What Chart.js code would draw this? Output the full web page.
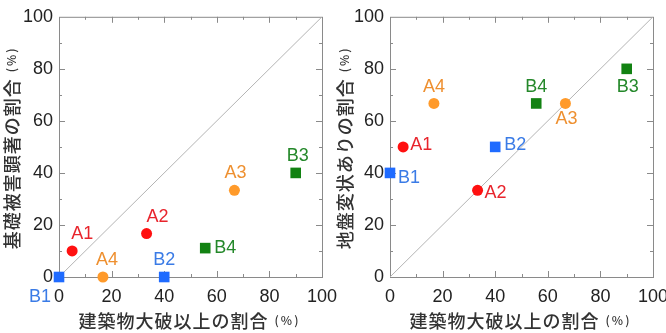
<!DOCTYPE html>
<html lang="ja">
<head>
<meta charset="UTF-8">
<title>建築物被害と基礎被害・地盤変状</title>
<script src="https://cdn.jsdelivr.net/npm/chart.js"></script>
<style>
  html, body { margin: 0; padding: 0; background: #fff; }
  .wrap { position: relative; width: 666px; height: 333px; overflow: hidden; }
  canvas { position: absolute; top: 0; }
  #left { left: 0; }
  #right { left: 333px; }
</style>
</head>
<body>
<div class="wrap">
  <canvas id="left" width="350" height="333"></canvas>
  <canvas id="right" width="345" height="333"></canvas>
</div>
<script>
  // values (%)
  const sites = ['A1', 'A2', 'A3', 'A4', 'B1', 'B2', 'B3', 'B4'];
  const buildingDamage = [5, 33.3, 66.7, 16.7, 0, 40, 90, 55.6];     // 建築物大破以上の割合
  const foundationDamage = [10, 16.7, 33.3, 0, 0, 0, 40, 11.1];     // 基礎被害顕著の割合
  const groundDeformation = [50, 33.3, 66.7, 66.7, 40, 50, 80, 66.7]; // 地盤変状ありの割合
  const axisTicks = [0, 20, 40, 60, 80, 100];
  const diagonal = [0, 100];

  const pointColors = ['#ff1010', '#ff1010', '#ff9a2a', '#ff9a2a', '#1f6bff', '#1f6bff', '#128212', '#128212'];
  const textColors = ['#e8242c', '#e8242c', '#ee9030', '#ee9030', '#3a7be6', '#3a7be6', '#24882a', '#24882a'];

  // label offsets from each point, px
  const leftOffsets = [[10, -17], [11, -17], [1, -17], [4, -17], [-19, 20], [0, -17], [2, -17], [20, 0]];
  const rightOffsets = [[18, -2], [18, 3], [1, 16], [0, -16], [19, 5], [20, -2], [1, 18], [0, -16]];

  const tickFamily = '"Liberation Sans", Arial, sans-serif';
  const jpFont = '"Noto Sans CJK JP", sans-serif';

  function drawTitle(ctx, main, x, y, rotate) {
    ctx.save();
    ctx.translate(x, y);
    if (rotate) ctx.rotate(-Math.PI / 2);
    const unit = '(%)';
    const gap = 6;
    ctx.font = '500 18px ' + jpFont;
    ctx.letterSpacing = '1px';
    const w1 = ctx.measureText(main).width;
    ctx.font = '500 12px ' + jpFont;
    ctx.letterSpacing = '2px';
    const w2 = ctx.measureText(unit).width;
    const sx = -(w1 + gap + w2) / 2;
    ctx.fillStyle = '#333';
    ctx.textBaseline = 'middle';
    ctx.font = '500 18px ' + jpFont;
    ctx.letterSpacing = '1px';
    ctx.fillText(main, sx, 0);
    ctx.font = '500 12px ' + jpFont;
    ctx.letterSpacing = '2px';
    ctx.fillText(unit, sx + w1 + gap, -1);
    ctx.restore();
  }

  const framePlugin = {
    id: 'frame',
    beforeDatasetsDraw(chart) {
      const { ctx, chartArea: a, scales } = chart;
      ctx.save();
      ctx.strokeStyle = '#8a8a8a';
      ctx.lineWidth = 1;
      ctx.strokeRect(a.left + 0.5, a.top + 0.5, a.right - a.left, a.bottom - a.top);
      ctx.beginPath();
      for (let v = 10; v < 100; v += 10) {
        const len = v % 20 === 0 ? 6 : 3;
        const px = Math.round(scales.x.getPixelForValue(v)) + 0.5;
        const py = Math.round(scales.y.getPixelForValue(v)) + 0.5;
        ctx.moveTo(px, a.bottom); ctx.lineTo(px, a.bottom - len);
        ctx.moveTo(px, a.top); ctx.lineTo(px, a.top + len);
        ctx.moveTo(a.left, py); ctx.lineTo(a.left + len, py);
        ctx.moveTo(a.right, py); ctx.lineTo(a.right - len, py);
      }
      ctx.stroke();
      ctx.restore();
    },
    afterDatasetsDraw(chart, args, opts) {
      const { ctx, chartArea: a } = chart;
      const meta = chart.getDatasetMeta(0);
      ctx.save();
      ctx.font = '18px ' + tickFamily;
      ctx.textAlign = 'center';
      ctx.textBaseline = 'middle';
      meta.data.forEach((pt, i) => {
        ctx.fillStyle = textColors[i];
        ctx.fillText(sites[i], pt.x + opts.offsets[i][0], pt.y + opts.offsets[i][1]);
      });
      ctx.restore();
      drawTitle(ctx, '建築物大破以上の割合', (a.left + a.right) / 2 - 1, 321, false);
      drawTitle(ctx, opts.yTitle, 12.5, (a.top + a.bottom) / 2 + 1, true);
    }
  };

  function makeChart(id, yValues, yTitle, offsets, yWidth, rightPad) {
    return new Chart(document.getElementById(id), {
      type: 'scatter',
      data: {
        datasets: [
          {
            data: buildingDamage.map((x, i) => ({ x: x, y: yValues[i] })),
            pointStyle: sites.map(s => s[0] === 'A' ? 'circle' : 'rect'),
            pointRadius: sites.map(s => s[0] === 'A' ? 5.5 : 7.5),
            pointBackgroundColor: pointColors,
            pointBorderWidth: 0,
            clip: false
          },
          {
            type: 'line',
            data: diagonal.map(v => ({ x: v, y: v })),
            borderColor: '#b4b4b4',
            borderWidth: 1,
            pointRadius: 0
          }
        ]
      },
      options: {
        responsive: false,
        animation: false,
        devicePixelRatio: 1,
        layout: { padding: { left: 0, top: 15, right: rightPad, bottom: 0 } },
        scales: {
          x: {
            type: 'linear', min: 0, max: 100,
            afterBuildTicks: s => { s.ticks = axisTicks.map(v => ({ value: v })); },
            afterFit: s => { s.height = 56; },
            grid: { display: false, drawTicks: false },
            border: { display: false },
            ticks: { font: { size: 18, family: tickFamily }, color: '#222', padding: 9, maxRotation: 0 }
          },
          y: {
            type: 'linear', min: 0, max: 100,
            afterBuildTicks: s => { s.ticks = axisTicks.map(v => ({ value: v })); },
            afterFit: s => { s.width = yWidth; },
            grid: { display: false, drawTicks: false },
            border: { display: false },
            ticks: { font: { size: 18, family: tickFamily }, color: '#222', padding: 6 }
          }
        },
        plugins: {
          legend: { display: false },
          tooltip: { enabled: false },
          frame: { offsets: offsets, yTitle: yTitle }
        }
      },
      plugins: [framePlugin]
    });
  }

  makeChart('left', foundationDamage, '基礎被害顕著の割合', leftOffsets, 59, 28);
  makeChart('right', groundDeformation, '地盤変状ありの割合', rightOffsets, 57, 25);
</script>
</body>
</html>
